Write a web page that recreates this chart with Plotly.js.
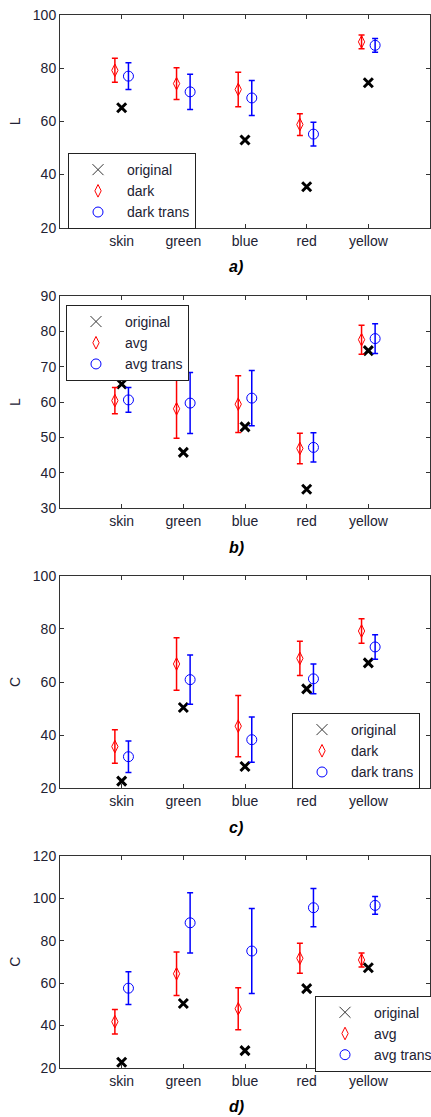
<!DOCTYPE html>
<html>
<head>
<meta charset="utf-8">
<script src="https://cdn.plot.ly/plotly-3.0.1.min.js"></script>
<style>
html,body{margin:0;padding:0;background:#fff;}
#chart{width:431px;height:1117px;}
</style>
</head>
<body>
<div id="chart"></div>
<script>
// ---- data ----
var categories = ['skin', 'green', 'blue', 'red', 'yellow'];

var origL = [65.1, 45.8, 53.0, 35.4, 74.5];
var origC = [22.7, 50.4, 28.2, 57.4, 67.2];

// panel a (L, dark)
var darkL = [79.2, 74.2, 72.0, 58.8, 89.9];
var darkLErr = [4.5, 6.0, 6.5, 4.1, 2.6];
var darkTransL = [77.0, 71.1, 68.8, 55.2, 88.6];
var darkTransLErr = [5.0, 6.6, 6.6, 4.5, 2.6];

// panel b (L, avg)
var avgL = [60.4, 58.1, 59.4, 46.9, 77.6];
var avgLErr = [3.7, 8.3, 8.0, 4.3, 4.1];
var avgTransL = [60.6, 59.7, 61.1, 47.2, 77.9];
var avgTransLErr = [3.5, 8.6, 7.8, 4.1, 4.2];

// panel c (C, dark)
var darkC = [35.7, 66.8, 43.4, 68.9, 79.2];
var darkCErr = [6.3, 9.9, 11.5, 6.4, 4.6];
var darkTransC = [31.9, 60.9, 38.3, 61.2, 73.2];
var darkTransCErr = [5.9, 9.3, 8.5, 5.6, 4.6];

// panel d (C, avg)
var avgC = [41.8, 64.4, 47.9, 71.7, 70.9];
var avgCErr = [5.8, 10.3, 9.85, 7.1, 3.3];
var avgTransC = [57.6, 88.4, 75.1, 95.5, 96.6];
var avgTransCErr = [7.7, 14.2, 20.0, 9.0, 4.2];

var captions = ['a)', 'b)', 'c)', 'd)'];
var yTitles = ['L', 'L', 'C', 'C'];
var legendNames = [
  ['original', 'dark', 'dark trans'],
  ['original', 'avg', 'avg trans'],
  ['original', 'dark', 'dark trans'],
  ['original', 'avg', 'avg trans']
];

// ---- styling ----
var FONT = 'Liberation Sans, Arial, Helvetica, sans-serif';
var TXT = '#222233';
var AX = '#333333';
var RED = '#ff0000';
var BLUE = '#0000ff';

var panels = [
  {orig: origL, r: darkL, re: darkLErr, b: darkTransL, be: darkTransLErr, range: [20, 100], dtick: 20,
   dom: [0.798, 1.0], leg: {x: 0.1578, y: 0.863}},
  {orig: origL, r: avgL, re: avgLErr, b: avgTransL, be: avgTransLErr, range: [30, 90], dtick: 10,
   dom: [0.5315, 0.7334], leg: {x: 0.1531, y: 0.727}},
  {orig: origC, r: darkC, re: darkCErr, b: darkTransC, be: darkTransCErr, range: [20, 100], dtick: 20,
   dom: [0.2656, 0.4675], leg: {x: 0.6775, y: 0.3617}},
  {orig: origC, r: avgC, re: avgCErr, b: avgTransC, be: avgTransCErr, range: [20, 120], dtick: 20,
   dom: [0, 0.2016], leg: {x: 0.7309, y: 0.1086}}
];

var pos = categories.map(function (c, i) { return i + 1; });
var OFF = 0.11;

var traces = [];
var layout = {
  width: 431, height: 1117,
  margin: {l: 60, r: 1, t: 15, b: 49, autoexpand: false},
  paper_bgcolor: '#ffffff', plot_bgcolor: '#ffffff',
  font: {family: FONT, size: 14, color: TXT},
  annotations: []
};

panels.forEach(function (p, k) {
  var sfx = k === 0 ? '' : String(k + 1);
  var xa = 'x' + sfx, ya = 'y' + sfx;
  var legId = 'legend' + sfx;
  var names = legendNames[k];

  // original data (thick x)
  traces.push({
    type: 'scatter', mode: 'markers', x: pos, y: p.orig, xaxis: xa, yaxis: ya,
    showlegend: false, legend: legId, hoverinfo: 'skip',
    marker: {symbol: 'x-thin-open', size: 9, color: '#000', line: {width: 3, color: '#000'}}
  });
  // legend entry for original (thin x)
  traces.push({
    type: 'scatter', mode: 'markers', x: [null], y: [null], xaxis: xa, yaxis: ya,
    name: names[0], legend: legId, showlegend: true,
    marker: {symbol: 'x-thin-open', size: 11, color: '#333', line: {width: 1, color: '#333'}}
  });
  traces.push({
    type: 'scatter', mode: 'markers', name: names[1], legend: legId,
    x: pos.map(function (v) { return v - OFF; }), y: p.r, xaxis: xa, yaxis: ya,
    error_y: {type: 'data', array: p.re, visible: true, color: RED, thickness: 1.5, width: 3},
    marker: {symbol: 'diamond-tall-open', size: 9, color: RED, line: {width: 1, color: RED}}
  });
  traces.push({
    type: 'scatter', mode: 'markers', name: names[2], legend: legId,
    x: pos.map(function (v) { return v + OFF; }), y: p.b, xaxis: xa, yaxis: ya,
    error_y: {type: 'data', array: p.be, visible: true, color: BLUE, thickness: 1.5, width: 3},
    marker: {symbol: 'circle-open', size: 10, color: BLUE, line: {width: 1, color: BLUE}}
  });

  layout['xaxis' + sfx] = {
    domain: [0, 1], anchor: ya, range: [0, 6],
    tickmode: 'array', tickvals: pos, ticktext: categories, tickangle: 0,
    ticks: 'inside', ticklen: 4, tickcolor: AX, tickwidth: 1,
    showline: true, linecolor: AX, linewidth: 1, mirror: 'ticks',
    showgrid: false, zeroline: false, fixedrange: true, automargin: false,
    tickfont: {family: FONT, size: 14, color: TXT}
  };
  layout['yaxis' + sfx] = {
    domain: p.dom, anchor: xa, range: p.range, dtick: p.dtick, tick0: 0,
    ticks: 'inside', ticklen: 4, tickcolor: AX, tickwidth: 1,
    showline: true, linecolor: AX, linewidth: 1, mirror: 'ticks',
    showgrid: false, zeroline: false, fixedrange: true, automargin: false,
    tickfont: {family: FONT, size: 14, color: TXT}
  };
  layout[legId] = {
    x: p.leg.x, y: p.leg.y, xref: 'container', yref: 'container',
    xanchor: 'left', yanchor: 'top',
    bgcolor: '#ffffff', bordercolor: '#222222', borderwidth: 1,
    font: {family: FONT, size: 14, color: TXT},
    itemwidth: 48, traceorder: 'normal'
  };
  // y-axis title
  layout.annotations.push({
    text: yTitles[k], textangle: -90,
    xref: xa + ' domain', yref: ya + ' domain', x: -0.1216, y: 0.5,
    xanchor: 'center', yanchor: 'middle', showarrow: false,
    font: {family: FONT, size: 14, color: TXT}
  });
  // panel caption
  layout.annotations.push({
    text: '<b><i>' + captions[k] + '</i></b>',
    xref: xa + ' domain', yref: ya + ' domain', x: 0.476, y: -0.183,
    xanchor: 'center', yanchor: 'middle', showarrow: false,
    font: {family: FONT, size: 16, color: '#000'}
  });
});

Plotly.newPlot('chart', traces, layout, {displayModeBar: false, staticPlot: true});
</script>
</body>
</html>
